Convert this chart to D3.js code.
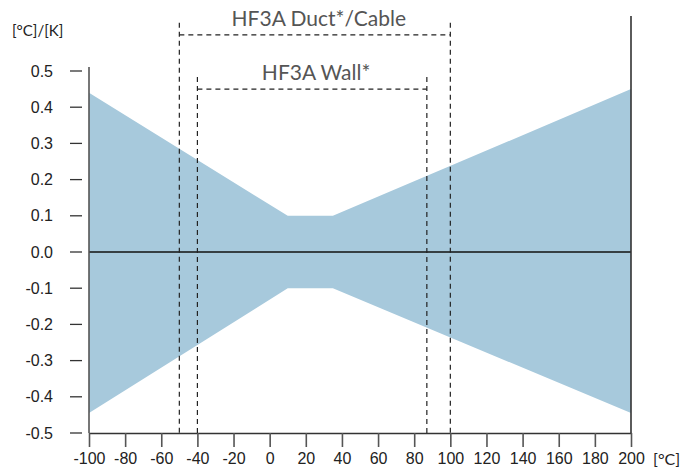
<!DOCTYPE html>
<html>
<head>
<meta charset="utf-8">
<script src="https://cdn.jsdelivr.net/npm/d3@7"></script>
<style>
  body { margin: 0; background: #fff; }
  svg { display: block; }
</style>
</head>
<body>
<div id="chart"></div>
<script>
// tolerance band: temperature [°C] -> upper / lower deviation
var bandX     = [-100, 10, 35, 200];
var bandUpper = [0.44, 0.1, 0.1, 0.45];
var bandLower = [-0.445, -0.1, -0.1, -0.445];

var xTicks = [-100, -80, -60, -40, -20, 0, 20, 40, 60, 80, 100, 120, 140, 160, 180, 200];
var yTicks = [0.5, 0.4, 0.3, 0.2, 0.1, 0.0, -0.1, -0.2, -0.3, -0.4, -0.5];

// measuring ranges (dashed brackets)
var rangeNames = ["HF3A Duct*/Cable", "HF3A Wall*"];
var rangeFrom  = [-50, -40];
var rangeTo    = [100, 87];
var rangeLevel = [0.6, 0.45];

var W = 697, H = 470;
var margin = {top: 71, right: 66, bottom: 37, left: 89};
var width = W - margin.left - margin.right,
    height = H - margin.top - margin.bottom;

var x = d3.scaleLinear().domain([-100, 200]).range([0, width]);
var y = d3.scaleLinear().domain([-0.5, 0.5]).range([height, 0]);

// plain hyphen instead of d3's unicode minus
var fmtX = d => String(d);
var fmtY = d => d3.format(".1f")(d).replace("\u2212", "-");

var svg = d3.select("#chart").append("svg")
    .attr("width", W)
    .attr("height", H)
  .append("g")
    .attr("transform", "translate(" + margin.left + "," + margin.top + ")");

var band = bandX.map(function(v, i){ return {x: v, hi: bandUpper[i], lo: bandLower[i]}; });

var area = d3.area()
    .x(d => x(d.x))
    .y0(d => y(d.lo))
    .y1(d => y(d.hi));

svg.append("path")
    .datum(band)
    .attr("fill", "#a7c9dc")
    .attr("d", area);

// zero line
svg.append("line")
    .attr("x1", 0).attr("x2", width)
    .attr("y1", y(0)).attr("y2", y(0))
    .attr("stroke", "#111")
    .attr("stroke-width", 1.3);

// y ticks, detached from the axis
var yg = svg.append("g").attr("class", "yAxis");
yg.selectAll("line")
    .data(yTicks)
  .enter().append("line")
    .attr("x1", -19).attr("x2", -7)
    .attr("y1", d => y(d)).attr("y2", d => y(d))
    .attr("stroke", "#333")
    .attr("stroke-width", 1.3);
yg.selectAll("text")
    .data(yTicks)
  .enter().append("text")
    .attr("x", -36)
    .attr("y", d => y(d))
    .attr("dy", "0.35em")
    .attr("text-anchor", "end")
    .style("font-family", "'Liberation Sans', Arial, sans-serif")
    .style("font-size", "16px")
    .style("fill", "#222")
    .text(fmtY);

// left and right axis lines
svg.append("line")
    .attr("x1", 0).attr("x2", 0)
    .attr("y1", -4).attr("y2", height)
    .attr("stroke", "#555").attr("stroke-width", 1.6);
svg.append("line")
    .attr("x1", width).attr("x2", width)
    .attr("y1", -55).attr("y2", height)
    .attr("stroke", "#333").attr("stroke-width", 1.6);

// x axis
var xAxis = d3.axisBottom(x)
    .tickValues(xTicks)
    .tickSize(14)
    .tickSizeOuter(0)
    .tickPadding(6)
    .tickFormat(fmtX);

var xg = svg.append("g")
    .attr("class", "xAxis")
    .attr("transform", `translate(0,${height})`)
    .call(xAxis);
xg.select(".domain").attr("stroke", "#333").attr("stroke-width", 1.6);
xg.selectAll(".tick line").attr("stroke", "#555").attr("stroke-width", 1.6);
xg.selectAll(".tick text")
    .style("font-family", "'Liberation Sans', Arial, sans-serif")
    .style("font-size", "16px")
    .style("fill", "#222");

svg.append("text")
    .attr("x", width + 22)
    .attr("y", height + 32)
    .style("font-family", "Lato, sans-serif")
    .style("font-size", "16px")
    .style("fill", "#222")
    .text("[°C]");

svg.append("text")
    .attr("x", 12 - margin.left)
    .attr("y", 36 - margin.top)
    .style("font-family", "Lato, sans-serif")
    .style("font-size", "15px")
    .style("fill", "#222")
    .text("[°C]/[K]");

// dashed range brackets
var ranges = rangeNames.map(function(n, i){
  return {name: n, from: rangeFrom[i], to: rangeTo[i], level: rangeLevel[i]};
});

var rg = svg.selectAll(".range")
    .data(ranges)
  .enter().append("g")
    .attr("class", "range");

rg.append("line")
    .attr("x1", d => x(d.from)).attr("x2", d => x(d.to))
    .attr("y1", d => y(d.level)).attr("y2", d => y(d.level))
    .attr("stroke", "#222").attr("stroke-width", 1.2)
    .attr("stroke-dasharray", "5,4");

rg.selectAll(".v")
    .data(d => [d.from, d.to].map(v => ({v: v, level: d.level})))
  .enter().append("line")
    .attr("x1", d => x(d.v)).attr("x2", d => x(d.v))
    .attr("y1", d => y(d.level) - 12).attr("y2", height)
    .attr("stroke", "#222").attr("stroke-width", 1.2)
    .attr("stroke-dasharray", "5,4");

rg.append("text")
    .attr("x", d => (x(d.from) + x(d.to)) / 2 + 4)
    .attr("y", d => y(d.level) - 9)
    .attr("text-anchor", "middle")
    .style("font-family", "Lato, sans-serif")
    .style("font-size", "21px")
    .style("fill", "#555")
    .text(d => d.name);
</script>
</body>
</html>
